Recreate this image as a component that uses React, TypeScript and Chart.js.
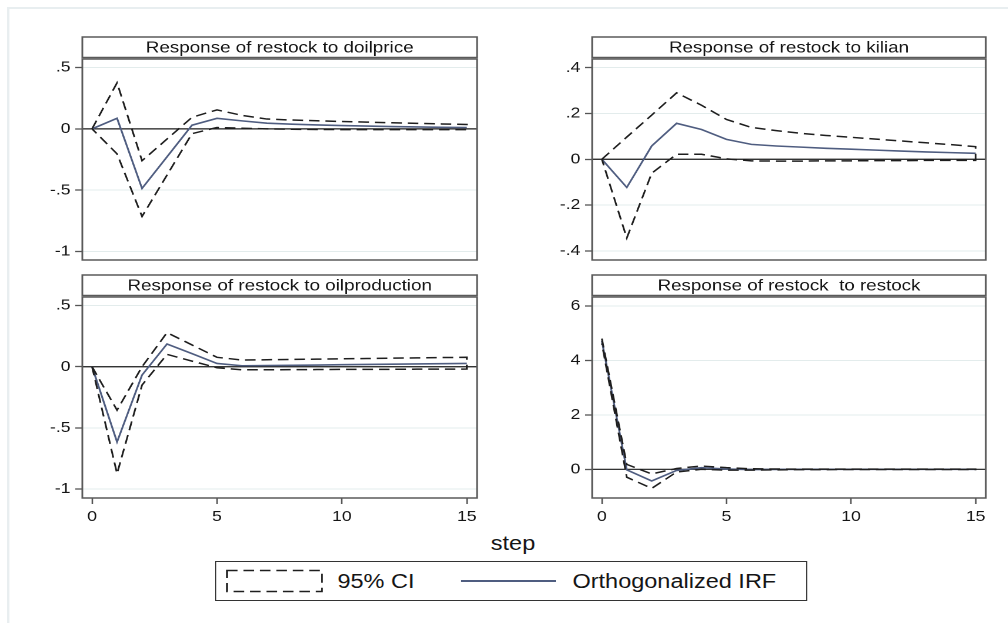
import React, { useEffect, useRef } from "react";
import { Chart, registerables } from "chart.js";

Chart.register(...registerables);

// ---------------- data ----------------
const steps = [0, 1, 2, 3, 4, 5, 6, 7, 8, 9, 10, 11, 12, 13, 14, 15];
const xTicks = [0, 5, 10, 15];

const titles = [
  "Response of restock to doilprice",
  "Response of restock to kilian",
  "Response of restock to oilproduction",
  "Response of restock  to restock",
];

// restock <- doilprice
const irfDoilprice = [0, 0.086, -0.486, -0.228, 0.03, 0.086, 0.065, 0.046, 0.038, 0.032, 0.027, 0.023, 0.019, 0.016, 0.013, 0.011];
const upDoilprice = [0, 0.376, -0.26, -0.083, 0.094, 0.155, 0.11, 0.08, 0.072, 0.066, 0.06, 0.055, 0.05, 0.045, 0.04, 0.036];
const loDoilprice = [0, -0.204, -0.715, -0.377, -0.039, 0.011, 0.005, 0.0, -0.003, -0.005, -0.006, -0.006, -0.006, -0.006, -0.006, -0.006];

// restock <- kilian
const irfKilian = [0, -0.123, 0.058, 0.157, 0.13, 0.087, 0.065, 0.058, 0.053, 0.048, 0.044, 0.04, 0.036, 0.032, 0.029, 0.026];
const upKilian = [0, 0.097, 0.193, 0.29, 0.236, 0.174, 0.139, 0.125, 0.113, 0.104, 0.096, 0.088, 0.08, 0.072, 0.064, 0.055];
const loKilian = [0, -0.344, -0.061, 0.022, 0.022, 0.002, -0.007, -0.008, -0.008, -0.007, -0.007, -0.006, -0.006, -0.005, -0.005, -0.005];

// restock <- oilproduction
const irfOilprod = [0, -0.615, -0.068, 0.186, 0.107, 0.027, 0.008, 0.01, 0.012, 0.014, 0.017, 0.019, 0.021, 0.023, 0.025, 0.027];
const upOilprod = [0, -0.355, 0.0, 0.279, 0.178, 0.077, 0.055, 0.057, 0.06, 0.062, 0.065, 0.067, 0.07, 0.072, 0.075, 0.077];
const loOilprod = [0, -0.874, -0.15, 0.101, 0.046, -0.008, -0.025, -0.025, -0.024, -0.023, -0.022, -0.022, -0.021, -0.02, -0.02, -0.019];

// restock <- restock
const irfRestock = [4.72, -0.02, -0.43, -0.04, 0.06, 0.01, -0.01, -0.005, 0, 0, 0, 0, 0, 0, 0, 0];
const upRestock = [4.8, 0.18, -0.17, 0.03, 0.12, 0.06, 0.02, 0.01, 0.005, 0.005, 0.005, 0.005, 0.005, 0.005, 0.005, 0.005];
const loRestock = [4.62, -0.29, -0.7, -0.1, 0.0, -0.03, -0.03, -0.02, -0.01, -0.01, -0.005, -0.005, -0.005, -0.005, -0.005, -0.005];

const yTicksDoilprice = [-1, -0.5, 0, 0.5];
const yTicksKilian = [-0.4, -0.2, 0, 0.2, 0.4];
const yTicksOilprod = [-1, -0.5, 0, 0.5];
const yTicksRestock = [0, 2, 4, 6];

const legendLabels = ["95% CI", "Orthogonalized IRF"];
const xAxisTitle = "step";

// ---------------- styles ----------------
const S = 1.175; // horizontal stretch of the original figure
const FONT = "'Liberation Sans', Arial, Helvetica, sans-serif";
const IRF_COLOR = "#4f5d80";
const CI_COLOR = "#1e1e1e";
const TEXT = "#151515";
const TICK_FONT = 15;

const fmt = (v: number) => String(v).replace(/^(-?)0\./, "$1.");

const panelPlugin = {
  id: "panelTitle",
  beforeDatasetsDraw(chart: any) {
    const { ctx, chartArea: a, scales } = chart;
    const py = scales.y.getPixelForValue(0);
    ctx.save();
    ctx.strokeStyle = "#1a1a1a";
    ctx.lineWidth = 1.2;
    ctx.beginPath();
    ctx.moveTo(a.left, py);
    ctx.lineTo(a.right, py);
    ctx.stroke();
    ctx.restore();
  },
  afterDraw(chart: any, _args: any, opts: any) {
    const { ctx, chartArea: a } = chart;
    ctx.save();
    ctx.strokeStyle = "#5a5a5a";
    ctx.lineWidth = 1.5;
    ctx.strokeRect(a.left, a.top, a.right - a.left, a.bottom - a.top);
    // title box
    const tTop = a.top - 22;
    const tH = 20.5;
    ctx.fillStyle = "#ffffff";
    ctx.fillRect(a.left, tTop, a.right - a.left, tH);
    ctx.strokeRect(a.left, tTop, a.right - a.left, tH);
    ctx.fillStyle = TEXT;
    ctx.font = `16px ${FONT}`;
    ctx.textAlign = "center";
    ctx.textBaseline = "middle";
    ctx.fillText(opts.text, (a.left + a.right) / 2, tTop + tH / 2 + 1);
    ctx.restore();
  },
};

type PanelCfg = {
  title: string;
  irf: number[];
  up: number[];
  lo: number[];
  yTicks: number[];
  yMin: number;
  yMax: number;
  left: number;
  top: number;
  bottomRow: boolean;
};

const LEFT_X = 30;
const RIGHT_X = 463.6;
const TOP_Y = 34;
const BOTTOM_Y = 272;

const panels: PanelCfg[] = [
  { title: titles[0], irf: irfDoilprice, up: upDoilprice, lo: loDoilprice, yTicks: yTicksDoilprice, yMin: -1.07, yMax: 0.57, left: LEFT_X, top: TOP_Y, bottomRow: false },
  { title: titles[1], irf: irfKilian, up: upKilian, lo: loKilian, yTicks: yTicksKilian, yMin: -0.44, yMax: 0.438, left: RIGHT_X, top: TOP_Y, bottomRow: false },
  { title: titles[2], irf: irfOilprod, up: upOilprod, lo: loOilprod, yTicks: yTicksOilprod, yMin: -1.073, yMax: 0.57, left: LEFT_X, top: BOTTOM_Y, bottomRow: true },
  { title: titles[3], irf: irfRestock, up: upRestock, lo: loRestock, yTicks: yTicksRestock, yMin: -1.054, yMax: 6.33, left: RIGHT_X, top: BOTTOM_Y, bottomRow: true },
];

function Panel({ cfg }: { cfg: PanelCfg }) {
  const ref = useRef<HTMLCanvasElement>(null);
  useEffect(() => {
    const ciPoints = [
      ...cfg.up.map((y, i) => ({ x: steps[i], y })),
      ...cfg.lo.map((y, i) => ({ x: steps[i], y })).reverse(),
    ];
    const irfPoints = cfg.irf.map((y, i) => ({ x: steps[i], y }));
    const chart = new Chart(ref.current!, {
      type: "line",
      data: {
        datasets: [
          {
            label: legendLabels[0],
            data: ciPoints,
            borderColor: CI_COLOR,
            borderWidth: 1.5,
            borderDash: [9, 5],
            pointRadius: 0,
            fill: false,
            tension: 0,
          },
          {
            label: legendLabels[1],
            data: irfPoints,
            borderColor: IRF_COLOR,
            borderWidth: 1.6,
            pointRadius: 0,
            fill: false,
            tension: 0,
          },
        ],
      },
      options: {
        animation: false,
        responsive: true,
        maintainAspectRatio: false,
        devicePixelRatio: 2,
        layout: { padding: { top: 25, right: 3, bottom: cfg.bottomRow ? 2 : 3, left: 0 } },
        plugins: {
          legend: { display: false },
          tooltip: { enabled: false },
          // @ts-ignore
          panelTitle: { text: cfg.title },
        },
        scales: {
          x: {
            type: "linear",
            min: -0.39,
            max: 15.41,
            display: cfg.bottomRow,
            afterBuildTicks: (s: any) => {
              s.ticks = xTicks.map((v) => ({ value: v }));
            },
            afterFit: (s: any) => {
              s.height = cfg.bottomRow ? 28 : 0;
              s.paddingLeft = 0;
              s.paddingRight = 0;
            },
            grid: { drawOnChartArea: false, tickLength: 6, tickColor: "#555", tickWidth: 1.3 },
            border: { display: false },
            ticks: {
              font: { size: TICK_FONT, family: FONT },
              color: TEXT,
              padding: 4,
              maxRotation: 0,
              autoSkip: false,
            },
          },
          y: {
            type: "linear",
            min: cfg.yMin,
            max: cfg.yMax,
            afterBuildTicks: (s: any) => {
              s.ticks = cfg.yTicks.map((v) => ({ value: v }));
            },
            afterFit: (s: any) => {
              s.width = 40;
              s.paddingTop = 0;
              s.paddingBottom = 0;
            },
            grid: { color: "#e3ecec", lineWidth: 1, tickLength: 6, tickColor: "#555", tickWidth: 1.3 },
            border: { display: false },
            ticks: {
              font: { size: TICK_FONT, family: FONT },
              color: TEXT,
              padding: 4,
              autoSkip: false,
              callback: (v: any) => fmt(Number(v)),
            },
          },
        },
      },
      plugins: [panelPlugin],
    } as any);
    return () => chart.destroy();
  }, [cfg]);

  const width = 378.5;
  const height = cfg.bottomRow ? 256 : 229;
  return (
    <div style={{ position: "absolute", left: cfg.left, top: cfg.top, width, height }}>
      <canvas ref={ref} />
    </div>
  );
}

export default function App() {
  const W = 1008 / S;
  const legendW = 503.8;
  const legendH = 40;
  return (
    <div
      style={{
        position: "absolute",
        left: 0,
        top: 0,
        width: W,
        height: 623,
        overflow: "hidden",
        transform: `scaleX(${S})`,
        transformOrigin: "0 0",
        background: "#ffffff",
        fontFamily: FONT,
        color: TEXT,
      }}
    >
      <div
        style={{
          position: "absolute",
          left: 5.5,
          top: 7,
          width: W - 5.5,
          height: 623 - 7,
          borderLeft: "2px solid #e8eef0",
          borderTop: "2px solid #e8eef0",
          boxSizing: "border-box",
        }}
      />
      {panels.map((p, i) => (
        <Panel key={i} cfg={p} />
      ))}
      <div
        style={{
          position: "absolute",
          left: 386.6,
          top: 531,
          width: 100,
          textAlign: "center",
          fontSize: 20,
          lineHeight: "24px",
        }}
      >
        {xAxisTitle}
      </div>
      <div
        style={{
          position: "absolute",
          left: 183,
          top: 561,
          width: legendW,
          height: legendH,
          border: "1.5px solid #333",
          boxSizing: "border-box",
          background: "#fff",
        }}
      >
        <svg
          width={legendW}
          height={legendH}
          style={{ position: "absolute", left: -1.5, top: -1.5 }}
        >
          <rect
            x={10.2}
            y={9.5}
            width={80.8}
            height={21}
            fill="none"
            stroke={CI_COLOR}
            strokeWidth={1.5}
            strokeDasharray="9 5"
          />
          <line x1={209.3} y1={20} x2={290.2} y2={20} stroke={IRF_COLOR} strokeWidth={1.8} />
        </svg>
        <div
          style={{
            position: "absolute",
            left: 103.2,
            top: 6.5,
            fontSize: 20,
            lineHeight: "24px",
            whiteSpace: "nowrap",
          }}
        >
          {legendLabels[0]}
        </div>
        <div
          style={{
            position: "absolute",
            left: 303.2,
            top: 6.5,
            fontSize: 20,
            lineHeight: "24px",
            whiteSpace: "nowrap",
          }}
        >
          {legendLabels[1]}
        </div>
      </div>
    </div>
  );
}
